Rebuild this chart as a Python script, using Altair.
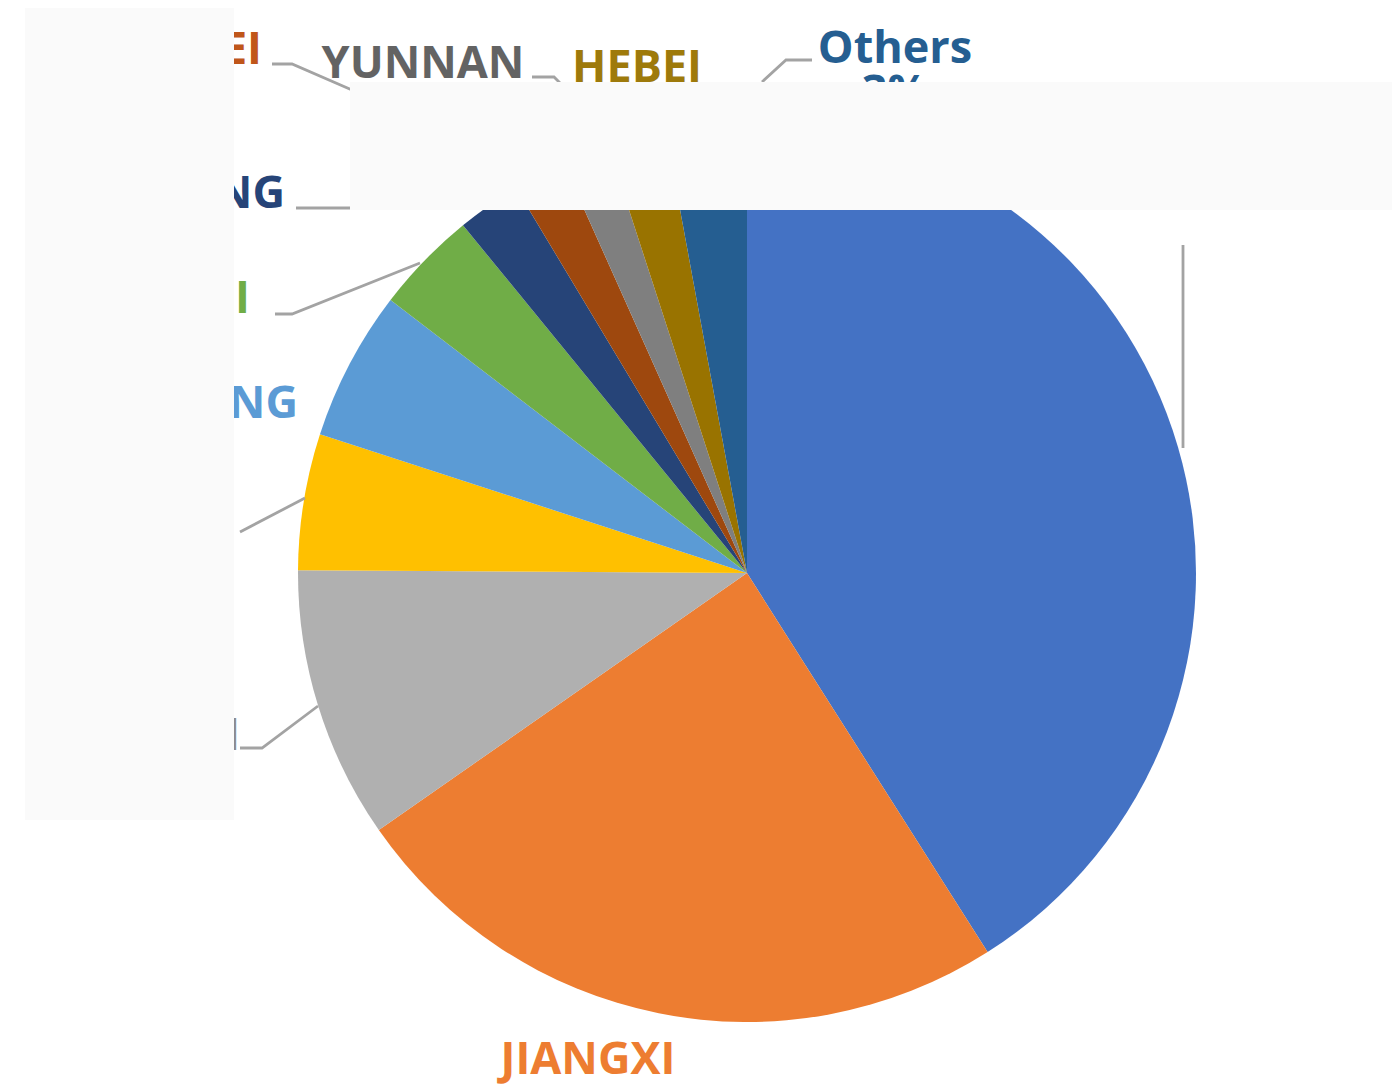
import altair as alt
import pandas as pd

# ---- slice data (clockwise from 12 o'clock) ----
provinces = ["GUANGDONG", "JIANGXI", "SICHUAN", "HUNAN", "SHANDONG", "ANHUI",
             "ZHEJIANG", "HUBEI", "YUNNAN", "HEBEI", "Others"]
shares = [41.0, 24.3, 9.8, 4.9, 5.4, 3.7, 2.3, 1.9, 1.7, 2.1, 2.9]
pct_labels = ["41%", "24%", "10%", "5%", "5%", "4%", "2%", "2%", "2%", "2%", "3%"]
slice_colors = ["#4472C4", "#ED7D31", "#B0B0B0", "#FFC000", "#5B9BD5", "#70AD47",
                "#264478", "#9E480E", "#7F7F7F", "#997300", "#255E91"]
text_colors = ["#4472C4", "#ED7D31", "#8C8C8C", "#FFC000", "#5B9BD5", "#70AD47",
               "#264478", "#C0561A", "#636363", "#9E7A0B", "#255E91"]

# ---- label layout (page pixel coordinates) ----
label_anchor = ["center", "center", "right", "right", "right", "right",
                "right", "right", "center", "center", "center"]
label_x = [1230, 588, 240, 235, 298, 250, 285, 262, 423, 637, 895]
label_y = [166, 1074, 750, 530, 418, 313, 208, 64, 78, 82, 63]
pct_x = [1230, 588, 130, 160, 200, 190, 160, 195, 423, 637, 895]
pct_y = [210, 1121, 794, 574, 462, 357, 252, 108, 122, 126, 107]

# leader lines
line_id = ["HUBEI"] * 3 + ["YUNNAN"] * 3 + ["Others"] * 3 + ["ZHEJIANG"] * 2 + \
          ["ANHUI"] * 3 + ["HUNAN"] * 2 + ["SICHUAN"] * 3 + ["GUANGDONG"] * 2
line_ord = [0, 1, 2, 0, 1, 2, 0, 1, 2, 0, 1, 0, 1, 2, 0, 1, 0, 1, 2, 0, 1]
line_x = [272, 292, 352, 532, 554, 560, 762, 786, 812, 296, 350,
          275, 292, 420, 240, 305, 240, 262, 318, 1183, 1183]
line_y = [64, 64, 90, 77, 77, 83, 82, 60, 60, 208, 208,
          314, 314, 263, 532, 498, 748, 748, 706, 245, 448]

# veils laid over parts of the picture
veil_x = [25, 350]
veil_x2 = [234, 1392]
veil_y = [5, 82]
veil_y2 = [820, 210]

W, H = 1384, 1079
CX, CY, R = 747, 573, 449
PAGE_BOTTOM = 1087

pie_df = pd.DataFrame({"province": provinces, "share": shares,
                       "idx": list(range(len(provinces)))})
lab_df = pd.DataFrame({"province": provinces, "pct": pct_labels,
                       "anchor": label_anchor, "lx": label_x, "ly": label_y,
                       "px": pct_x, "py": pct_y, "tcolor": text_colors})
line_df = pd.DataFrame({"lid": line_id, "o": line_ord, "x": line_x, "y": line_y})
veil_df = pd.DataFrame({"x": veil_x, "x2": veil_x2, "y": veil_y, "y2": veil_y2})

xs = alt.Scale(domain=[8, 8 + W], range=[0, W], nice=False, zero=False)
ys = alt.Scale(domain=[8, 8 + H], range=[0, H], nice=False, zero=False)

pie = alt.Chart(pie_df).mark_arc(outerRadius=R).encode(
    theta=alt.Theta("share:Q", stack=True),
    order=alt.Order("idx:Q"),
    color=alt.Color("province:N", scale=alt.Scale(domain=provinces, range=slice_colors),
                    legend=None),
    x=alt.value(CX - 8),
    y=alt.value(CY - 8),
)

lines = alt.Chart(line_df).mark_line(color="#A3A3A3", strokeWidth=2.8).encode(
    x=alt.X("x:Q", scale=xs, axis=None),
    y=alt.Y("y:Q", scale=ys, axis=None),
    detail="lid:N",
    order="o:Q",
)

font = dict(font="Open Sans", fontWeight="bold", fontSize=45)

def name_layer(anchor):
    return alt.Chart(lab_df).transform_filter(
        alt.datum.anchor == anchor
    ).mark_text(align=anchor, baseline="alphabetic", **font).encode(
        x=alt.X("lx:Q", scale=xs, axis=None),
        y=alt.Y("ly:Q", scale=ys, axis=None),
        text="province:N",
        color=alt.Color("tcolor:N", scale=None),
    )

pcts = alt.Chart(lab_df).transform_filter(
    alt.datum.py < PAGE_BOTTOM
).mark_text(align="center", baseline="alphabetic", **font).encode(
    x=alt.X("px:Q", scale=xs, axis=None),
    y=alt.Y("py:Q", scale=ys, axis=None),
    text="pct:N",
    color=alt.Color("tcolor:N", scale=None),
)

veils = alt.Chart(veil_df).mark_rect(fill="#fafafa", fillOpacity=1, opacity=1).encode(
    x=alt.X("x:Q", scale=xs, axis=None),
    x2="x2:Q",
    y=alt.Y("y:Q", scale=ys, axis=None),
    y2="y2:Q",
)

chart = alt.layer(
    pie, lines, name_layer("center"), name_layer("right"), pcts, veils
).properties(
    width=W, height=H, autosize=alt.AutoSizeParams(type="none"), padding=0,
    background="white",
).configure_view(strokeWidth=0)

chart.save("out.html", embed_options={"renderer": "svg", "actions": False})
